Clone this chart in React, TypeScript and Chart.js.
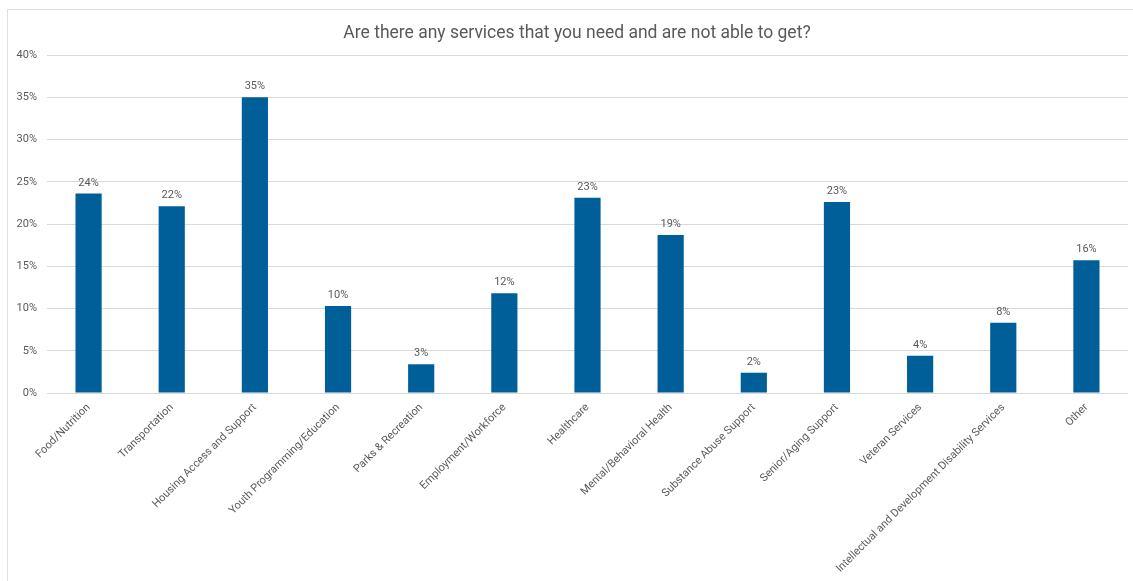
import React, { useEffect, useRef } from "react";
import { Chart, registerables } from "chart.js";

Chart.register(...registerables);

const TITLE = "Are there any services that you need and are not able to get?";

const categories: string[] = [
  "Food/Nutrition",
  "Transportation",
  "Housing Access and Support",
  "Youth Programming/Education",
  "Parks & Recreation",
  "Employment/Workforce",
  "Healthcare",
  "Mental/Behavioral Health",
  "Substance Abuse Support",
  "Senior/Aging Support",
  "Veteran Services",
  "Intellectual and Development Disability Services",
  "Other",
];

const values: number[] = [23.6, 22.1, 35.0, 10.3, 3.4, 11.8, 23.1, 18.7, 2.4, 22.6, 4.4, 8.3, 15.7];

const yTicks: number[] = [0, 5, 10, 15, 20, 25, 30, 35, 40];

const TEXT = "#595959";
const FONT = "Roboto, 'Liberation Sans', Arial, sans-serif";

const valueLabels = {
  id: "valueLabels",
  afterDatasetsDraw(chart: any) {
    const ctx = chart.ctx;
    const meta = chart.getDatasetMeta(0);
    ctx.save();
    ctx.font = `11px ${FONT}`;
    ctx.fillStyle = TEXT;
    ctx.textAlign = "center";
    ctx.textBaseline = "alphabetic";
    meta.data.forEach((bar: any, i: number) => {
      const v = chart.data.datasets[0].data[i] as number;
      ctx.fillText(`${Math.round(v)}%`, bar.x, bar.y - 8);
    });
    ctx.restore();
  },
};

const titleDraw = {
  id: "titleDraw",
  afterDraw(chart: any) {
    const ctx = chart.ctx;
    ctx.save();
    ctx.font = `17.5px ${FONT}`;
    ctx.fillStyle = TEXT;
    ctx.textAlign = "center";
    ctx.textBaseline = "alphabetic";
    ctx.fillText(TITLE, 577, 37.5);
    ctx.restore();
  },
};

export default function App() {
  const ref = useRef<HTMLCanvasElement | null>(null);

  useEffect(() => {
    if (!ref.current) return;
    const chart = new Chart(ref.current, {
      type: "bar",
      data: {
        labels: categories,
        datasets: [
          {
            data: values,
            backgroundColor: "#005f98",
            borderWidth: 0,
            categoryPercentage: 1,
            barPercentage: 0.315,
          },
        ],
      },
      options: {
        animation: false,
        responsive: false,
        layout: { padding: { left: 0, right: 5, top: 55, bottom: 0 } },
        plugins: {
          legend: { display: false },
          tooltip: { enabled: false },
          title: { display: false },
        },
        scales: {
          x: {
            grid: { display: false, drawTicks: false },
            border: { display: false },
            ticks: {
              color: TEXT,
              font: { family: FONT, size: 11 },
              minRotation: 45,
              maxRotation: 45,
              autoSkip: false,
              padding: 8,
            },
            afterFit(scale: any) {
              scale.height = 581 - 393;
            },
          },
          y: {
            min: 0,
            max: 40,
            afterBuildTicks(scale: any) {
              scale.ticks = yTicks.map((v) => ({ value: v }));
            },
            grid: { color: "#d9d9d9", drawTicks: false, lineWidth: 1 },
            border: { display: false },
            ticks: {
              color: TEXT,
              font: { family: FONT, size: 11 },
              padding: 10,
              callback: (v: any) => `${v}%`,
            },
            afterFit(scale: any) {
              scale.width = 47;
            },
          },
        },
      },
      plugins: [valueLabels, titleDraw],
    });
    return () => chart.destroy();
  }, []);

  return (
    <div>
      <div
        style={{
          position: "absolute",
          left: 7,
          top: 9,
          width: 1127,
          height: 572,
          boxSizing: "border-box",
          border: "1px solid #e0e0e0",
          borderBottom: "none",
          background: "#ffffff",
        }}
      />
      <canvas
        ref={ref}
        width={1133}
        height={581}
        style={{ position: "absolute", left: 0, top: 0, display: "block" }}
      />
    </div>
  );
}
